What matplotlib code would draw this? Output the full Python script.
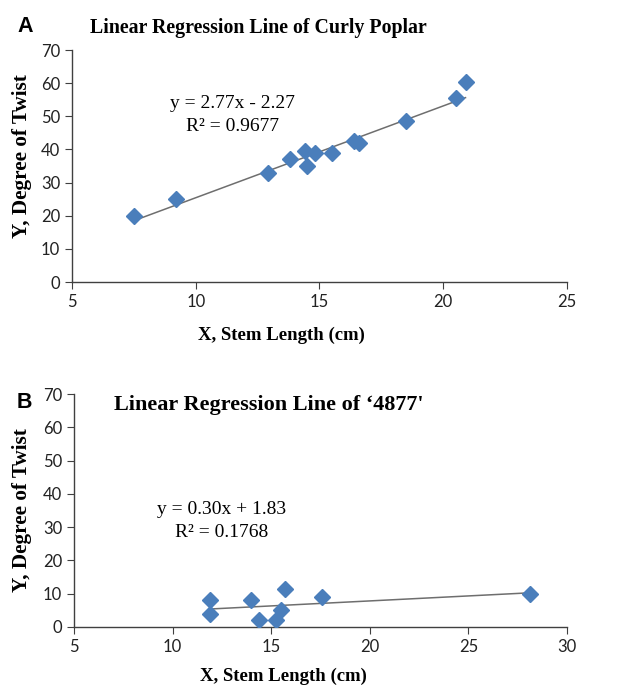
import matplotlib
matplotlib.use("Agg")
import matplotlib.pyplot as plt
import numpy as np

# panel A: curly poplar
stem_a = [7.5, 9.2, 12.9, 13.8, 14.4, 14.5, 14.8, 15.5, 16.4, 16.6, 18.5, 20.5, 20.9]
twist_a = [20, 25, 33, 37, 39.5, 35, 39, 39, 42.5, 42, 48.7, 55.6, 60.2]
coef_a = (2.77, -2.27)
eq_a = "y = 2.77x - 2.27\nR\u00b2 = 0.9677"

# panel B: '4877'
stem_b = [11.9, 11.9, 14.0, 14.4, 15.25, 15.5, 15.7, 17.6, 28.1]
twist_b = [8.2, 4.0, 8.2, 2.0, 2.0, 5.0, 11.3, 9.0, 10.0]
coef_b = (0.30, 1.83)
eq_b = "y = 0.30x + 1.83\nR\u00b2 = 0.1768"

serif = "Liberation Serif"
tick_font = "Lato"
blue = "#4a7ebb"

fig = plt.figure(figsize=(6.44, 6.85), dpi=100)
ax1 = fig.add_axes([0.1118, 0.5883, 0.7686, 0.3387])
ax2 = fig.add_axes([0.1149, 0.0847, 0.7655, 0.3401])


def draw(ax, xs, ys, coef, eq, xlim, eq_pos, xlab_pos, ylab_pos):
    ax.plot(xs, ys, "D", color=blue, markersize=8.5, zorder=3)
    lx = np.array([min(xs), max(xs)])
    ax.plot(lx, coef[0] * lx + coef[1], color="#6e6e6e", lw=1.1, zorder=2)
    ax.set_xlim(*xlim)
    ax.set_ylim(0, 70)
    ax.set_xticks(np.arange(xlim[0], xlim[1] + 1, 5))
    ax.set_yticks(np.arange(0, 71, 10))
    for s in ["top", "right"]:
        ax.spines[s].set_visible(False)
    for s in ["left", "bottom"]:
        ax.spines[s].set_color("#404040")
        ax.spines[s].set_linewidth(1.0)
    ax.tick_params(direction="out", length=5, width=0.8, colors="#404040",
                   labelsize=12, labelcolor="#222222")
    for lab in ax.get_xticklabels() + ax.get_yticklabels():
        lab.set_fontfamily(tick_font)
    ax.text(eq_pos[0], eq_pos[1], eq, ha="center", va="center",
            multialignment="center", fontsize=14, family=serif,
            linespacing=1.45)
    ax.set_xlabel("X, Stem Length (cm)", family=serif, fontweight="bold",
                  fontsize=13.5)
    ax.xaxis.set_label_coords(*xlab_pos)
    ax.xaxis.label.set_va("center")
    ax.set_ylabel("Y, Degree of Twist", family=serif, fontweight="bold",
                  fontsize=15.3)
    ax.yaxis.set_label_coords(*ylab_pos)
    ax.yaxis.label.set_va("center")


draw(ax1, stem_a, twist_a, coef_a, eq_a, (5, 25), (11.5, 50.4),
     (0.424, -0.228), (-0.101, 0.543))
draw(ax2, stem_b, twist_b, coef_b, eq_b, (5, 30), (12.5, 31.8),
     (0.424, -0.212), (-0.106, 0.502))

fig.text(258 / 644, 1 - 28 / 685, "Linear Regression Line of Curly Poplar",
         ha="center", va="center", family=serif, fontweight="bold", fontsize=14.3)
fig.text(269 / 644, 1 - 405 / 685, "Linear Regression Line of \u20184877'",
         ha="center", va="center", family=serif, fontweight="bold", fontsize=16)
fig.text(17 / 644, 1 - 27 / 685, "A", ha="left", va="center",
         family="Liberation Sans", fontweight="bold", fontsize=15.5)
fig.text(17 / 644, 1 - 402 / 685, "B", ha="left", va="center",
         family="Liberation Sans", fontweight="bold", fontsize=15.5)

fig.savefig("out.png", dpi=100)
